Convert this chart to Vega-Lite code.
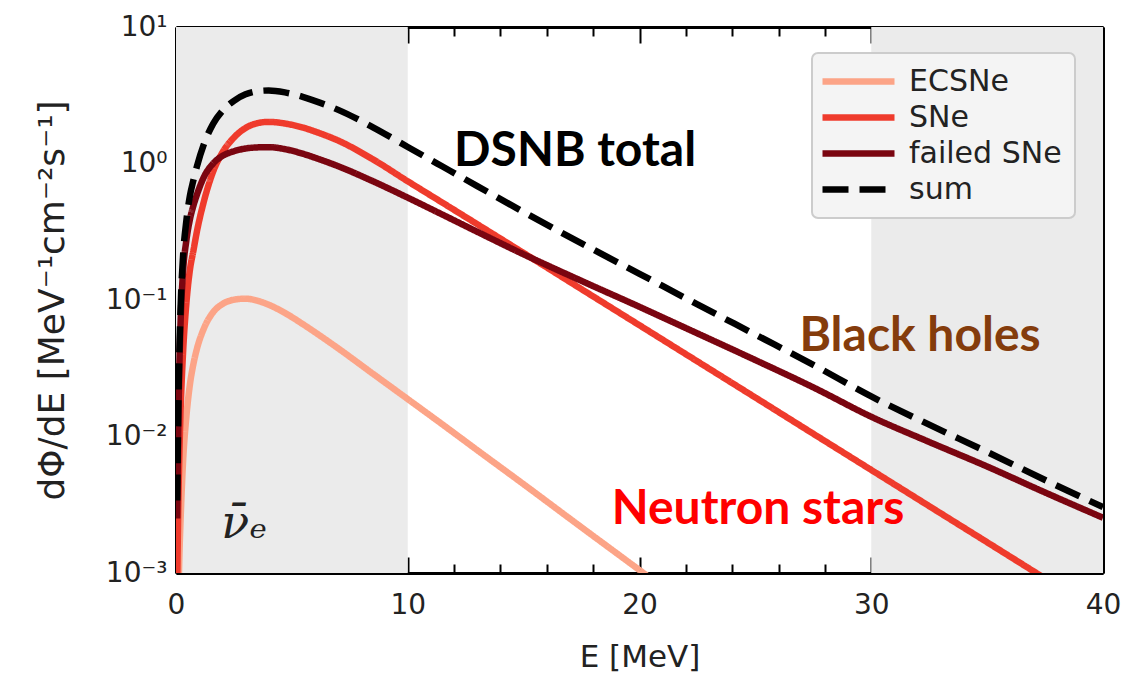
{
  "$schema": "https://vega.github.io/schema/vega-lite/v6.json",
  "width": 927,
  "height": 546,
  "autosize": "none",
  "padding": {"left": 176, "top": 27, "right": 35, "bottom": 106},
  "background": "white",
  "config": {
    "view": {"stroke": null},
    "axis": {
      "zindex": 1,
      "grid": false,
      "domain": true,
      "domainColor": "black",
      "domainWidth": 3,
      "tickColor": "black",
      "tickWidth": 2,
      "labelFont": "DejaVu Sans",
      "labelFontSize": 28,
      "labelColor": "#222222",
      "labelOverlap": false,
      "labelFlush": false,
      "labelBound": false,
      "titleFont": "DejaVu Sans",
      "titleFontWeight": "normal",
      "titleColor": "#222222"
    },
    "legend": {
      "orient": "none",
      "legendX": 636,
      "legendY": 26,
      "padding": 13,
      "fillColor": "#f4f4f4",
      "strokeColor": "#cccccc",
      "strokeWidth": 2,
      "cornerRadius": 6,
      "labelFont": "DejaVu Sans",
      "labelFontSize": 30,
      "labelColor": "#222222",
      "symbolType": "M-3,0L3,0",
      "symbolSize": 576,
      "symbolStrokeWidth": 6.5,
      "symbolOffset": 18,
      "labelOffset": 35,
      "rowPadding": 5,
      "labelLimit": 400
    }
  },
  "resolve": {"axis": {"x": "independent", "y": "independent"}},
  "datasets": {
    "shade": [{"lo": 0, "hi": 10}, {"lo": 30, "hi": 40}],
    "curves": [
      {"E": 0.1, "flux": 0.00063, "series": "ECSNe"},
      {"E": 0.15, "flux": 0.00141, "series": "ECSNe"},
      {"E": 0.2, "flux": 0.00251, "series": "ECSNe"},
      {"E": 0.3, "flux": 0.00631, "series": "ECSNe"},
      {"E": 0.45, "flux": 0.0141, "series": "ECSNe"},
      {"E": 0.6, "flux": 0.024, "series": "ECSNe"},
      {"E": 0.75, "flux": 0.0339, "series": "ECSNe"},
      {"E": 0.9, "flux": 0.0437, "series": "ECSNe"},
      {"E": 1.2, "flux": 0.0617, "series": "ECSNe"},
      {"E": 1.6, "flux": 0.0813, "series": "ECSNe"},
      {"E": 2.0, "flux": 0.0933, "series": "ECSNe"},
      {"E": 2.5, "flux": 0.1005, "series": "ECSNe"},
      {"E": 3.0, "flux": 0.1023, "series": "ECSNe"},
      {"E": 3.5, "flux": 0.0989, "series": "ECSNe"},
      {"E": 4.0, "flux": 0.0923, "series": "ECSNe"},
      {"E": 4.7, "flux": 0.0804, "series": "ECSNe"},
      {"E": 5.5, "flux": 0.0661, "series": "ECSNe"},
      {"E": 6.2, "flux": 0.055, "series": "ECSNe"},
      {"E": 7, "flux": 0.0442, "series": "ECSNe"},
      {"E": 8.5, "flux": 0.0288, "series": "ECSNe"},
      {"E": 10, "flux": 0.0188, "series": "ECSNe"},
      {"E": 11.5, "flux": 0.01225, "series": "ECSNe"},
      {"E": 13, "flux": 0.00794, "series": "ECSNe"},
      {"E": 15, "flux": 0.00447, "series": "ECSNe"},
      {"E": 17.5, "flux": 0.00216, "series": "ECSNe"},
      {"E": 20, "flux": 0.00105, "series": "ECSNe"},
      {"E": 22.5, "flux": 0.000507, "series": "ECSNe"},

      {"E": 0.05, "flux": 0.00079, "series": "SNe"},
      {"E": 0.1, "flux": 0.00316, "series": "SNe"},
      {"E": 0.15, "flux": 0.00794, "series": "SNe"},
      {"E": 0.2, "flux": 0.0158, "series": "SNe"},
      {"E": 0.3, "flux": 0.0398, "series": "SNe"},
      {"E": 0.45, "flux": 0.0955, "series": "SNe"},
      {"E": 0.6, "flux": 0.166, "series": "SNe"},
      {"E": 0.75, "flux": 0.229, "series": "SNe"},
      {"E": 0.9, "flux": 0.316, "series": "SNe"},
      {"E": 1.2, "flux": 0.525, "series": "SNe"},
      {"E": 1.6, "flux": 0.871, "series": "SNe"},
      {"E": 2.0, "flux": 1.202, "series": "SNe"},
      {"E": 2.5, "flux": 1.549, "series": "SNe"},
      {"E": 3.0, "flux": 1.82, "series": "SNe"},
      {"E": 3.5, "flux": 1.972, "series": "SNe"},
      {"E": 4.0, "flux": 2.018, "series": "SNe"},
      {"E": 4.7, "flux": 1.963, "series": "SNe"},
      {"E": 5.5, "flux": 1.828, "series": "SNe"},
      {"E": 6.2, "flux": 1.667, "series": "SNe"},
      {"E": 7, "flux": 1.472, "series": "SNe"},
      {"E": 8.5, "flux": 1.072, "series": "SNe"},
      {"E": 10, "flux": 0.741, "series": "SNe"},
      {"E": 11.5, "flux": 0.516, "series": "SNe"},
      {"E": 13, "flux": 0.359, "series": "SNe"},
      {"E": 15, "flux": 0.221, "series": "SNe"},
      {"E": 17.5, "flux": 0.12, "series": "SNe"},
      {"E": 20, "flux": 0.0653, "series": "SNe"},
      {"E": 22.5, "flux": 0.0355, "series": "SNe"},
      {"E": 25, "flux": 0.0193, "series": "SNe"},
      {"E": 27.5, "flux": 0.01047, "series": "SNe"},
      {"E": 30, "flux": 0.00569, "series": "SNe"},
      {"E": 32.5, "flux": 0.00309, "series": "SNe"},
      {"E": 35, "flux": 0.00168, "series": "SNe"},
      {"E": 37.5, "flux": 0.000912, "series": "SNe"},
      {"E": 40, "flux": 0.000495, "series": "SNe"},

      {"E": 0.05, "flux": 0.00251, "series": "failed SNe"},
      {"E": 0.1, "flux": 0.0126, "series": "failed SNe"},
      {"E": 0.15, "flux": 0.0355, "series": "failed SNe"},
      {"E": 0.2, "flux": 0.0708, "series": "failed SNe"},
      {"E": 0.3, "flux": 0.158, "series": "failed SNe"},
      {"E": 0.45, "flux": 0.275, "series": "failed SNe"},
      {"E": 0.6, "flux": 0.389, "series": "failed SNe"},
      {"E": 0.75, "flux": 0.49, "series": "failed SNe"},
      {"E": 0.9, "flux": 0.589, "series": "failed SNe"},
      {"E": 1.2, "flux": 0.794, "series": "failed SNe"},
      {"E": 1.6, "flux": 1.0, "series": "failed SNe"},
      {"E": 2.0, "flux": 1.135, "series": "failed SNe"},
      {"E": 2.5, "flux": 1.23, "series": "failed SNe"},
      {"E": 3.0, "flux": 1.288, "series": "failed SNe"},
      {"E": 3.5, "flux": 1.312, "series": "failed SNe"},
      {"E": 4.0, "flux": 1.318, "series": "failed SNe"},
      {"E": 4.7, "flux": 1.274, "series": "failed SNe"},
      {"E": 5.5, "flux": 1.175, "series": "failed SNe"},
      {"E": 6.2, "flux": 1.072, "series": "failed SNe"},
      {"E": 7, "flux": 0.955, "series": "failed SNe"},
      {"E": 8.5, "flux": 0.741, "series": "failed SNe"},
      {"E": 10, "flux": 0.562, "series": "failed SNe"},
      {"E": 11.5, "flux": 0.422, "series": "failed SNe"},
      {"E": 13, "flux": 0.316, "series": "failed SNe"},
      {"E": 15, "flux": 0.216, "series": "failed SNe"},
      {"E": 17.5, "flux": 0.138, "series": "failed SNe"},
      {"E": 20, "flux": 0.0891, "series": "failed SNe"},
      {"E": 22.5, "flux": 0.0569, "series": "failed SNe"},
      {"E": 25, "flux": 0.0363, "series": "failed SNe"},
      {"E": 27.5, "flux": 0.0229, "series": "failed SNe"},
      {"E": 30, "flux": 0.01396, "series": "failed SNe"},
      {"E": 32.5, "flux": 0.00912, "series": "failed SNe"},
      {"E": 35, "flux": 0.00603, "series": "failed SNe"},
      {"E": 37.5, "flux": 0.00389, "series": "failed SNe"},
      {"E": 40, "flux": 0.00254, "series": "failed SNe"},

      {"E": 0.05, "flux": 0.0034, "series": "sum"},
      {"E": 0.1, "flux": 0.0164, "series": "sum"},
      {"E": 0.15, "flux": 0.0449, "series": "sum"},
      {"E": 0.2, "flux": 0.0891, "series": "sum"},
      {"E": 0.3, "flux": 0.204, "series": "sum"},
      {"E": 0.45, "flux": 0.385, "series": "sum"},
      {"E": 0.6, "flux": 0.579, "series": "sum"},
      {"E": 0.75, "flux": 0.753, "series": "sum"},
      {"E": 0.9, "flux": 0.949, "series": "sum"},
      {"E": 1.2, "flux": 1.381, "series": "sum"},
      {"E": 1.6, "flux": 1.952, "series": "sum"},
      {"E": 2.0, "flux": 2.43, "series": "sum"},
      {"E": 2.5, "flux": 2.88, "series": "sum"},
      {"E": 3.0, "flux": 3.21, "series": "sum"},
      {"E": 3.5, "flux": 3.383, "series": "sum"},
      {"E": 4.0, "flux": 3.428, "series": "sum"},
      {"E": 4.7, "flux": 3.317, "series": "sum"},
      {"E": 5.5, "flux": 3.069, "series": "sum"},
      {"E": 6.2, "flux": 2.794, "series": "sum"},
      {"E": 7, "flux": 2.471, "series": "sum"},
      {"E": 8.5, "flux": 1.842, "series": "sum"},
      {"E": 10, "flux": 1.322, "series": "sum"},
      {"E": 11.5, "flux": 0.95, "series": "sum"},
      {"E": 13, "flux": 0.683, "series": "sum"},
      {"E": 15, "flux": 0.441, "series": "sum"},
      {"E": 17.5, "flux": 0.26, "series": "sum"},
      {"E": 20, "flux": 0.1555, "series": "sum"},
      {"E": 22.5, "flux": 0.0929, "series": "sum"},
      {"E": 25, "flux": 0.0558, "series": "sum"},
      {"E": 27.5, "flux": 0.0335, "series": "sum"},
      {"E": 30, "flux": 0.01965, "series": "sum"},
      {"E": 32.5, "flux": 0.01221, "series": "sum"},
      {"E": 35, "flux": 0.00771, "series": "sum"},
      {"E": 37.5, "flux": 0.0048, "series": "sum"},
      {"E": 40, "flux": 0.00304, "series": "sum"}
    ],
    "dsnb": [{"label": "DSNB total", "E": 12.0, "flux": 1.21}],
    "bh": [{"label": "Black holes", "E": 26.9, "flux": 0.0536}],
    "ns": [{"label": "Neutron stars", "E": 18.8, "flux": 0.0029}],
    "nu": [{"label": "ν̄ₑ", "E": 1.95, "flux": 0.0023}]
  },
  "layer": [
    {
      "data": {"name": "shade"},
      "mark": {"type": "rect", "fill": "#ebebeb", "stroke": null},
      "encoding": {
        "x": {"field": "lo", "type": "quantitative", "scale": {"domain": [0, 40], "nice": false, "zero": false}, "axis": null},
        "x2": {"field": "hi"},
        "y": {"datum": 0.001, "type": "quantitative", "scale": {"type": "log", "domain": [0.001, 10], "nice": false}, "axis": null},
        "y2": {"datum": 10}
      }
    },
    {
      "data": {"name": "curves"},
      "mark": {"type": "line", "strokeWidth": 6.5, "clip": true, "interpolate": "monotone", "strokeCap": "butt"},
      "encoding": {
        "x": {
          "field": "E", "type": "quantitative",
          "scale": {"domain": [0, 40], "nice": false, "zero": false},
          "axis": {
            "orient": "bottom",
            "title": "E [MeV]",
            "titleFontSize": 31,
            "values": [0, 2, 4, 6, 8, 10, 12, 14, 16, 18, 20, 22, 24, 26, 28, 30, 32, 34, 36, 38, 40],
            "labelExpr": "datum.value % 10 == 0 ? datum.label : ''",
            "tickSize": {"condition": {"test": "datum.value % 10 == 0", "value": -16}, "value": -9},
            "labelPadding": 34,
            "titlePadding": 16
          }
        },
        "y": {
          "field": "flux", "type": "quantitative",
          "scale": {"type": "log", "domain": [0.001, 10], "nice": false},
          "axis": {
            "orient": "left",
            "title": "dΦ/dE [MeV⁻¹cm⁻²s⁻¹]",
            "titleFontSize": 36,
            "values": [0.001, 0.002, 0.003, 0.004, 0.005, 0.006, 0.007, 0.008, 0.009, 0.01, 0.02, 0.03, 0.04, 0.05, 0.06, 0.07, 0.08, 0.09, 0.1, 0.2, 0.3, 0.4, 0.5, 0.6, 0.7, 0.8, 0.9, 1, 2, 3, 4, 5, 6, 7, 8, 9, 10],
            "labelExpr": "datum.value == 10 ? '10¹' : datum.value == 1 ? '10⁰' : datum.value == 0.1 ? '10⁻¹' : datum.value == 0.01 ? '10⁻²' : datum.value == 0.001 ? '10⁻³' : ''",
            "tickSize": {"condition": {"test": "datum.value == 10 || datum.value == 1 || datum.value == 0.1 || datum.value == 0.01 || datum.value == 0.001", "value": -16}, "value": -9},
            "labelPadding": 25,
            "titlePadding": 34
          }
        },
        "color": {
          "field": "series", "type": "nominal", "title": null,
          "scale": {"domain": ["ECSNe", "SNe", "failed SNe", "sum"], "range": ["#fca487", "#ef3b2c", "#7a0510", "#000000"]},
          "legend": {"symbolType": "M-3,0L3,0"}
        },
        "strokeDash": {
          "field": "series", "type": "nominal", "title": null,
          "scale": {"domain": ["ECSNe", "SNe", "failed SNe", "sum"], "range": [[1, 0], [1, 0], [1, 0], [26, 11]]},
          "legend": {"symbolType": "M-3,0L3,0"}
        }
      }
    },
    {
      "data": {"name": "dsnb"},
      "mark": {"type": "text", "font": "Lato", "fontWeight": "bold", "fontSize": 48, "align": "left", "baseline": "middle", "color": "#000000"},
      "encoding": {
        "x": {
          "field": "E", "type": "quantitative",
          "axis": {
            "orient": "top", "title": null, "labels": false,
            "values": [0, 2, 4, 6, 8, 10, 12, 14, 16, 18, 20, 22, 24, 26, 28, 30, 32, 34, 36, 38, 40],
            "tickSize": {"condition": {"test": "datum.value % 10 == 0", "value": -16}, "value": -9}
          }
        },
        "y": {
          "field": "flux", "type": "quantitative",
          "axis": {
            "orient": "right", "title": null, "labels": false,
            "values": [0.001, 0.002, 0.003, 0.004, 0.005, 0.006, 0.007, 0.008, 0.009, 0.01, 0.02, 0.03, 0.04, 0.05, 0.06, 0.07, 0.08, 0.09, 0.1, 0.2, 0.3, 0.4, 0.5, 0.6, 0.7, 0.8, 0.9, 1, 2, 3, 4, 5, 6, 7, 8, 9, 10],
            "tickSize": {"condition": {"test": "datum.value == 10 || datum.value == 1 || datum.value == 0.1 || datum.value == 0.01 || datum.value == 0.001", "value": -16}, "value": -9}
          }
        },
        "text": {"field": "label"}
      }
    },
    {
      "data": {"name": "bh"},
      "mark": {"type": "text", "font": "Lato", "fontWeight": "bold", "fontSize": 48, "align": "left", "baseline": "middle", "color": "#843c0c"},
      "encoding": {
        "x": {"field": "E", "type": "quantitative", "axis": null},
        "y": {"field": "flux", "type": "quantitative", "axis": null},
        "text": {"field": "label"}
      }
    },
    {
      "data": {"name": "ns"},
      "mark": {"type": "text", "font": "Lato", "fontWeight": "bold", "fontSize": 48, "align": "left", "baseline": "middle", "color": "#ff0000"},
      "encoding": {
        "x": {"field": "E", "type": "quantitative", "axis": null},
        "y": {"field": "flux", "type": "quantitative", "axis": null},
        "text": {"field": "label"}
      }
    },
    {
      "data": {"name": "nu"},
      "mark": {"type": "text", "font": "DejaVu Serif", "fontStyle": "italic", "fontSize": 46, "align": "left", "baseline": "middle", "color": "#222222"},
      "encoding": {
        "x": {"field": "E", "type": "quantitative", "axis": null},
        "y": {"field": "flux", "type": "quantitative", "axis": null},
        "text": {"field": "label"}
      }
    }
  ]
}
